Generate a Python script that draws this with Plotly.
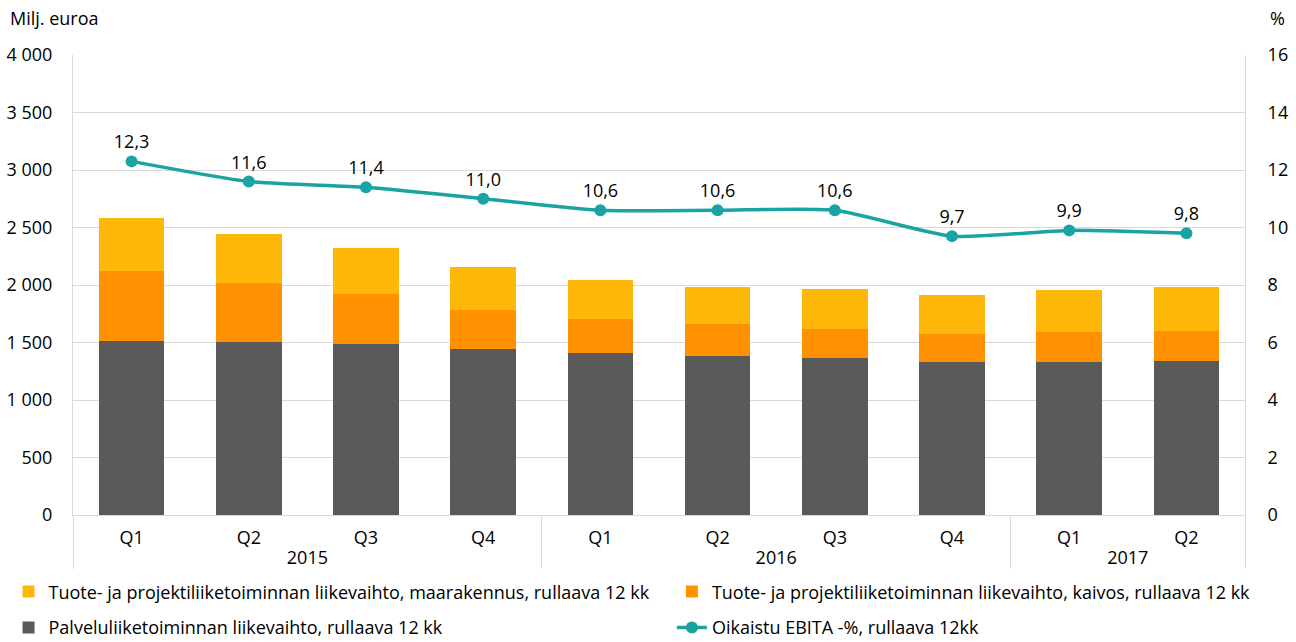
import plotly.graph_objects as go

years = ["2015", "2015", "2015", "2015", "2016", "2016", "2016", "2016", "2017", "2017"]
quarters = ["Q1", "Q2", "Q3", "Q4", "Q1", "Q2", "Q3", "Q4", "Q1", "Q2"]

palvelu = [1510, 1504, 1487, 1441, 1412, 1383, 1362, 1333, 1333, 1342]
kaivos = [614, 513, 435, 339, 292, 275, 258, 241, 261, 261]
maarakennus = [456, 426, 397, 374, 339, 328, 345, 339, 363, 377]
ebita = [12.3, 11.6, 11.4, 11.0, 10.6, 10.6, 10.6, 9.7, 9.9, 9.8]

name_maa = "Tuote- ja projektiliiketoiminnan liikevaihto, maarakennus, rullaava 12 kk"
name_kai = "Tuote- ja projektiliiketoiminnan liikevaihto, kaivos, rullaava 12 kk"
name_pal = "Palveluliiketoiminnan liikevaihto, rullaava 12 kk"
name_ebi = "Oikaistu EBITA -%, rullaava 12kk"

x = [years, quarters]
FONT = "Open Sans"
TXT = "#000000"
FS = 18

fig = go.Figure()
fig.add_trace(go.Bar(x=x, y=palvelu, name=name_pal, marker_color="#595959",
                     marker_line_width=0, legend="legend3"))
fig.add_trace(go.Bar(x=x, y=kaivos, name=name_kai, marker_color="#FF9100",
                     marker_line_width=0, legend="legend2"))
fig.add_trace(go.Bar(x=x, y=maarakennus, name=name_maa, marker_color="#FFB80A",
                     marker_line_width=0, legend="legend"))
fig.add_trace(go.Scatter(x=x, y=ebita, name=name_ebi, yaxis="y2", mode="lines+markers+text",
                         line=dict(color="#1AA3A3", width=3.5, shape="spline", smoothing=0.6),
                         marker=dict(size=12, color="#1AA3A3"),
                         text=[f"{v:.1f}".replace(".", ",") for v in ebita],
                         textposition="top center", textfont=dict(size=FS, color=TXT, family=FONT),
                         legend="legend4"))


def leg(xp, yp):
    return dict(orientation="h", x=xp, xanchor="left", y=yp, yanchor="middle", visible=True,
                font=dict(size=FS, color=TXT), itemwidth=30, bgcolor="rgba(0,0,0,0)")


fig.update_layout(
    width=1296, height=642,
    showlegend=True,
    barmode="stack", bargap=0.44,
    separators=", ",
    plot_bgcolor="white", paper_bgcolor="white",
    font=dict(family=FONT, size=FS, color=TXT),
    margin=dict(l=73, r=51, t=55, b=127, autoexpand=False),
    xaxis=dict(type="multicategory", range=[-0.5, 9.5], showgrid=False, showline=True,
               linecolor="#D9D9D9", linewidth=1, ticks="", dividercolor="#D9D9D9", dividerwidth=1,
               automargin=False, ticklabelstandoff=6, tickfont=dict(size=FS, color=TXT)),
    yaxis=dict(range=[0, 4000], dtick=500, tickformat=",d", showgrid=True, gridcolor="#D9D9D9",
               zeroline=False, showline=True, linecolor="#D9D9D9", ticks="", ticklabelstandoff=16,
               automargin=False, tickfont=dict(size=FS, color=TXT)),
    yaxis2=dict(range=[0, 16], dtick=2, overlaying="y", side="right", showgrid=False,
                zeroline=False, showline=True, linecolor="#D9D9D9", ticks="", ticklabelstandoff=18,
                automargin=False, tickfont=dict(size=FS, color=TXT)),
    legend=leg(-0.055, -0.167),
    legend2=leg(0.511, -0.167),
    legend3=leg(-0.055, -0.245),
    legend4=leg(0.511, -0.245),
    annotations=[
        dict(text="Milj. euroa", xref="paper", yref="paper", x=-0.0555, y=1.08,
             xanchor="left", yanchor="middle", showarrow=False, font=dict(size=FS, color=TXT)),
        dict(text="%", xref="paper", yref="paper", x=1.0196, y=1.08,
             xanchor="left", yanchor="middle", showarrow=False, font=dict(size=FS, color=TXT)),
    ],
)

fig.write_html("out.html", config={"displayModeBar": False},
               post_script="document.body.style.margin='0';")
